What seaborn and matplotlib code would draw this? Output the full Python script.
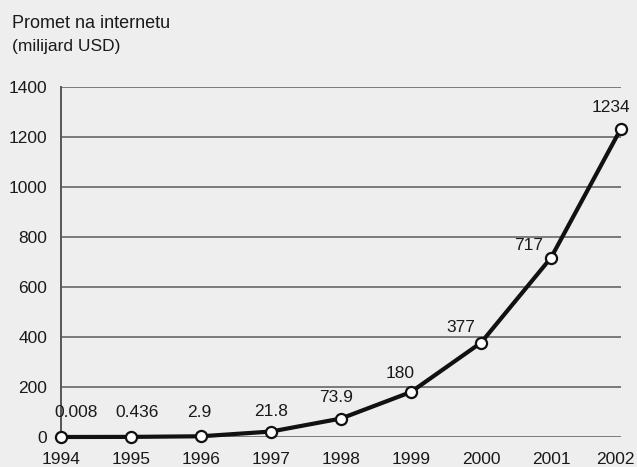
import matplotlib
matplotlib.use("Agg")
import matplotlib.pyplot as plt
import matplotlib.transforms as mtransforms
import seaborn as sns
import pandas as pd

# data
years = [1994, 1995, 1996, 1997, 1998, 1999, 2000, 2001, 2002]
values = [0.008, 0.436, 2.9, 21.8, 73.9, 180, 377, 717, 1234]
labels = ["0.008", "0.436", "2.9", "21.8", "73.9", "180", "377", "717", "1234"]
y_ticks = [0, 200, 400, 600, 800, 1000, 1200, 1400]

# label offsets in pixels (dx, dy) from each point
offsets = [(15, 24), (6, 24), (-2, 24), (0, 20), (-5, 21),
           (-11, 19), (-20, 15), (-22, 12), (-10, 21)]

df = pd.DataFrame({"year": years, "value": values})

sns.set_theme(style="white")
plt.rcParams["font.family"] = ["Liberation Sans Narrow", "Liberation Sans", "DejaVu Sans"]

bg = "#eeeeee"
ink = "#1a1a1a"
fig = plt.figure(figsize=(6.37, 4.67), dpi=100, facecolor=bg)
ax = fig.add_axes([61 / 637, 30 / 467, 560 / 637, 350 / 467])
ax.set_facecolor(bg)

# gridlines
for t in y_ticks:
    ax.axhline(t, color="#7a7a7a", lw=1.4, zorder=1)

sns.lineplot(data=df, x="year", y="value", ax=ax, color="#111111", lw=3,
             marker="o", markersize=8, markerfacecolor="white",
             markeredgecolor="#111111", markeredgewidth=1.6, zorder=3,
             clip_on=False)

for x, y, lab, (dx, dy) in zip(years, values, labels, offsets):
    ax.annotate(lab, (x, y), xytext=(dx, dy), textcoords="offset pixels",
                ha="center", va="center", fontsize=12.5, color=ink)

ax.set_xlim(1994, 2002)
ax.set_ylim(0, 1400)
ax.set_xticks(years)
ax.set_yticks(y_ticks)
ax.tick_params(axis="x", direction="out", length=8, width=1.2, color="#555555",
               labelsize=12.5, pad=3, labelcolor=ink)
ax.tick_params(axis="y", direction="out", length=6, width=1.2, color="#555555",
               labelsize=12.5, pad=4, labelcolor=ink)

# last year label sits a bit left so it stays inside the picture
last = ax.get_xticklabels()[-1]
last.set_transform(last.get_transform() + mtransforms.ScaledTranslation(-6 / 100, 0, fig.dpi_scale_trans))

for s in ["top", "right", "bottom"]:
    ax.spines[s].set_visible(False)
ax.spines["left"].set_color("#555555")
ax.spines["left"].set_linewidth(1.4)
ax.set_xlabel("")
ax.set_ylabel("")

fig.text(12 / 637, 1 - 23 / 467, "Promet na internetu", fontsize=13,
         va="center", ha="left", color=ink)
fig.text(12 / 637, 1 - 47 / 467, "(milijard USD)", fontsize=12.5,
         va="center", ha="left", color=ink)

fig.savefig("out.png", dpi=100, facecolor=bg)
